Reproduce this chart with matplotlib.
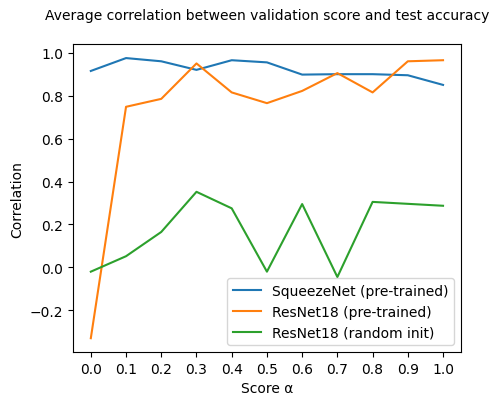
import matplotlib
matplotlib.use("Agg")
import matplotlib.pyplot as plt

alpha = [0.0, 0.1, 0.2, 0.3, 0.4, 0.5, 0.6, 0.7, 0.8, 0.9, 1.0]
squeezenet = [0.915, 0.975, 0.96, 0.92, 0.965, 0.955, 0.898, 0.9, 0.9, 0.895, 0.85]
resnet_pre = [-0.33, 0.748, 0.785, 0.95, 0.815, 0.765, 0.822, 0.905, 0.815, 0.96, 0.965]
resnet_rand = [-0.02, 0.052, 0.165, 0.352, 0.275, -0.02, 0.295, -0.045, 0.305, 0.296, 0.287]

fig = plt.figure(figsize=(4.98, 4.06), dpi=100)
ax = fig.add_axes([0.147, 0.13, 0.778, 0.759])
ax.plot(alpha, squeezenet, label="SqueezeNet (pre-trained)")
ax.plot(alpha, resnet_pre, label="ResNet18 (pre-trained)")
ax.plot(alpha, resnet_rand, label="ResNet18 (random init)")
ax.set_xticks(alpha)
ax.set_xlabel("Score α")
ax.set_ylabel("Correlation")
ax.legend(loc="lower right")
ax.set_title("Average correlation between validation score and test accuracy", fontsize=10, pad=18)
fig.savefig("out.png", dpi=100)
